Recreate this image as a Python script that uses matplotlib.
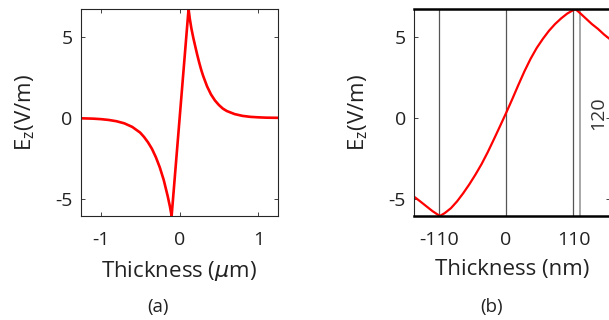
import matplotlib
matplotlib.use("Agg")
import matplotlib.pyplot as plt

plt.rcParams['font.family'] = ['Open Sans', 'DejaVu Sans']

# panel (a): field across the structure, thickness in um
xa = [-1.25, -1.1, -1.0, -0.9, -0.8, -0.7, -0.6, -0.5, -0.45, -0.4, -0.35, -0.3,
      -0.25, -0.2, -0.15, -0.12, -0.1, 0.115, 0.13, 0.15, 0.175, 0.2, 0.225, 0.25,
      0.275, 0.3, 0.35, 0.4, 0.45, 0.5, 0.55, 0.6, 0.7, 0.8, 0.9, 1.0, 1.1, 1.25]
ya = [-0.02, -0.04, -0.07, -0.12, -0.2, -0.33, -0.55, -0.9, -1.17, -1.5, -1.9, -2.42,
      -3.05, -3.83, -4.82, -5.5, -6.05, 6.73, 6.15, 5.55, 4.95, 4.42, 3.9, 3.42,
      2.98, 2.6, 1.95, 1.45, 1.08, 0.8, 0.58, 0.43, 0.24, 0.13, 0.07, 0.04, 0.02, 0.01]

# panel (b): zoom on the core, thickness in nm
xb = [-150, -140, -130, -120, -108, -100, -90, -80, -70, -60, -50, -40, -30, -20,
      -10, 0, 10, 20, 30, 40, 50, 60, 70, 80, 90, 100, 113, 120, 130, 140, 150,
      160, 170]
yb = [-4.86, -5.15, -5.45, -5.75, -6.05, -5.87, -5.57, -5.15, -4.65, -4.1, -3.5,
      -2.85, -2.12, -1.33, -0.52, 0.3, 1.15, 2.03, 2.88, 3.65, 4.32, 4.88, 5.38, 5.8,
      6.15, 6.45, 6.73, 6.5, 6.15, 5.8, 5.5, 5.15, 4.85]
vlines_dark = [-110, 0, 110]
vline_light = 120

ylim = (-6.05, 6.73)
yticks = [-5, 0, 5]
txt = '#222222'

fig = plt.figure(figsize=(6.09, 3.2), dpi=100)
axa = fig.add_axes([0.133, 0.325, 0.3235, 0.647])
axb = fig.add_axes([0.680, 0.325, 0.322, 0.647])

for ax in (axa, axb):
    ax.tick_params(direction='in', length=3, width=0.6, top=True, right=True,
                   labelsize=14, colors=txt)
    ax.tick_params(axis='x', pad=11)
    ax.tick_params(axis='y', pad=6)
    ax.set_ylim(*ylim)
    ax.set_yticks(yticks)
    ax.set_yticklabels(['-5', '0', '5'])
    ax.set_ylabel(r'E$_\mathregular{z}$(V/m)', fontsize=16, color=txt, labelpad=13)
    for s in ax.spines.values():
        s.set_linewidth(0.8)
        s.set_color('#262626')

axa.plot(xa, ya, color='red', lw=1.9)
axa.set_xlim(-1.25, 1.25)
axa.set_xticks([-1, 0, 1])
axa.set_xticklabels(['-1', '0', '1'])
axa.set_xlabel(r'Thickness ($\mu$m)', fontsize=16, color=txt, labelpad=7)

for v in vlines_dark:
    axb.axvline(v, color='#555555', lw=0.9)
axb.axvline(vline_light, color='#999999', lw=1.2)
axb.plot(xb, yb, color='red', lw=1.6)
axb.set_xlim(-150, 170)
axb.set_xticks([-110, 0, 110])
axb.set_xticklabels(['-110', '0', '110'])
axb.set_xlabel('Thickness (nm)', fontsize=16, color=txt, labelpad=7)
axb.spines['top'].set_linewidth(1.8)
axb.spines['bottom'].set_linewidth(1.8)
axb.spines['top'].set_color('black')
axb.spines['bottom'].set_color('black')
axb.text(150, 0.3, '120', rotation=90, ha='center', va='center', fontsize=14,
         color='#333333')

fig.text(158 / 609, 1 - 307 / 320, '(a)', ha='center', va='center', fontsize=13.5, color=txt)
fig.text(492 / 609, 1 - 307 / 320, '(b)', ha='center', va='center', fontsize=13.5, color=txt)

fig.savefig('out.png', dpi=100)
